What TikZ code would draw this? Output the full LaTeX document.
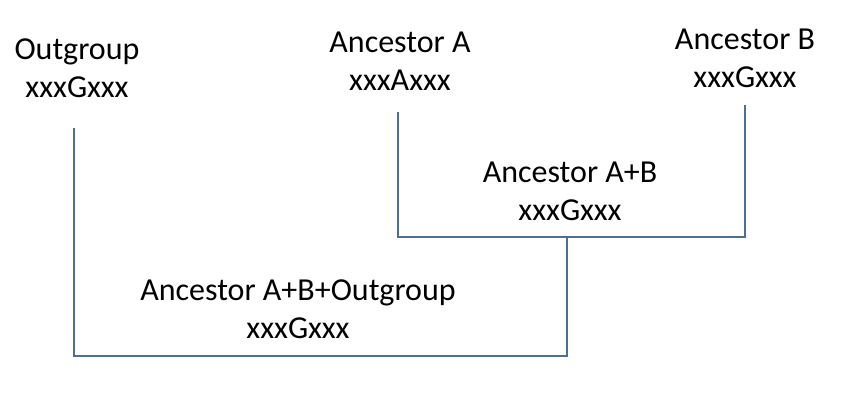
\documentclass[tikz,border=0pt]{standalone}
\usepackage{fontspec}
\setmainfont{Carlito}
\definecolor{branchblue}{RGB}{79,111,145}
\tikzset{
  taxon/.style={align=center, inner sep=0pt, font=\fontsize{32}{38}\selectfont},
  branch/.style={branchblue, line width=1.8pt}
}
\begin{document}
\begin{tikzpicture}[x=1pt, y=-1pt]
    \useasboundingbox (0,0) rectangle (844,400);
    \node [taxon] (outgroup) at (77,68) {Outgroup\\xxxGxxx};
    \node [taxon] (ancA) at (400,61) {Ancestor A\\xxxAxxx};
    \node [taxon] (ancB) at (745,58) {Ancestor B\\xxxGxxx};
    \node [taxon] (ancAB) at (570,191) {Ancestor A+B\\xxxGxxx};
    \node [taxon] (ancABO) at (298,309) {Ancestor A+B+Outgroup\\xxxGxxx};
    \coordinate (tipO) at (74,128);
    \coordinate (tipA) at (398,112);
    \coordinate (tipB) at (745,105);
    \coordinate (joinAB) at (567,237);
    \coordinate (joinABO) at (567,356);
    \draw [branch] (tipA) |- (joinAB) -| (tipB);
    \draw [branch] (tipO) |- (joinABO) -- (joinAB);
  \end{tikzpicture}
\end{document}
